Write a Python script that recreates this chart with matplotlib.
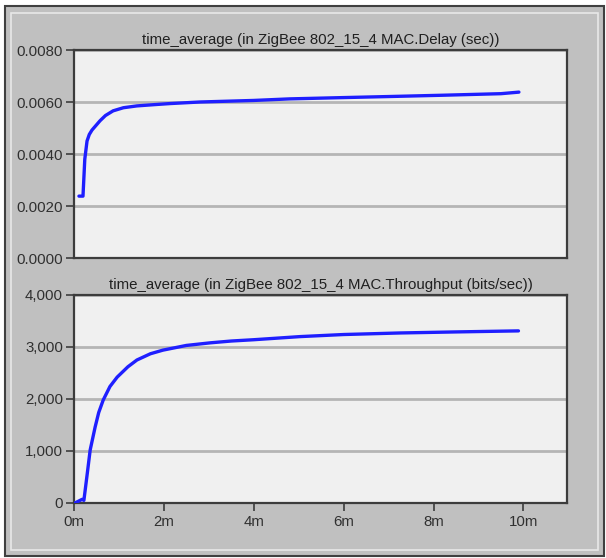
import matplotlib
matplotlib.use("Agg")
import matplotlib.pyplot as plt
from matplotlib.patches import Rectangle
from matplotlib.ticker import FuncFormatter

# ---- data (time in minutes) ----
delay_t = [0.11, 0.20, 0.24, 0.29, 0.34, 0.40, 0.50, 0.58, 0.70, 0.87, 1.10, 1.40, 1.80,
           2.14, 2.80, 4.00, 4.80, 6.00, 7.00, 8.20, 9.50, 9.90]
delay_v = [0.00238, 0.00238, 0.00380, 0.00450, 0.00475, 0.00492, 0.00512, 0.00528, 0.00548,
           0.00566, 0.00578, 0.00585, 0.00590, 0.00594, 0.00600, 0.00606, 0.00612, 0.00617,
           0.00621, 0.00626, 0.00632, 0.00638]

thr_t = [0.02, 0.18, 0.22, 0.30, 0.36, 0.47, 0.55, 0.65, 0.80, 0.96, 1.20, 1.40, 1.70,
         1.98, 2.50, 3.03, 3.50, 4.00, 5.03, 6.00, 7.26, 8.50, 9.89]
thr_v = [0, 70, 50, 600, 1020, 1460, 1740, 1980, 2240, 2420, 2620, 2750, 2870,
         2940, 3030, 3080, 3115, 3140, 3200, 3240, 3270, 3290, 3310]

x_ticks = [0, 2, 4, 6, 8, 10]
x_labels = ["0m", "2m", "4m", "6m", "8m", "10m"]
delay_ticks = [0.0, 0.002, 0.004, 0.006, 0.008]
thr_ticks = [0, 1000, 2000, 3000, 4000]
title_delay = "time_average (in ZigBee 802_15_4 MAC.Delay (sec))"
title_thr = "time_average (in ZigBee 802_15_4 MAC.Throughput (bits/sec))"

W, H = 606, 558
plt.rcParams['font.family'] = ['Liberation Sans', 'DejaVu Sans']
fig = plt.figure(figsize=(W / 100, H / 100), dpi=100)
fig.patch.set_facecolor('white')

def fx(px):
    return px / W

def fy(py):
    return 1 - py / H

# outer panel frame
fig.patches.append(Rectangle((fx(5), fy(556)), fx(599), 550 / H, transform=fig.transFigure,
                             facecolor='#c0c0c0', edgecolor='#404040', linewidth=1.5, zorder=-10))
fig.patches.append(Rectangle((fx(11), fy(550)), fx(587), 537 / H, transform=fig.transFigure,
                             facecolor='#c0c0c0', edgecolor='#e8e8e8', linewidth=1.2, zorder=-9))

left, right = 74, 567
ax1 = fig.add_axes([fx(left), fy(258), fx(right - left), (258 - 50) / H])
ax2 = fig.add_axes([fx(left), fy(503), fx(right - left), (503 - 295) / H])

line_color = '#1f1fff'
grid_color = '#b5b5b5'
dark = '#3c3c3c'
fs = 10.8

for ax in (ax1, ax2):
    ax.set_zorder(5)
    ax.set_facecolor('#f0f0f0')
    for s in ax.spines.values():
        s.set_color(dark)
        s.set_linewidth(1.6)
    ax.set_xlim(0, 10.97)
    ax.tick_params(axis='y', direction='out', length=6, width=1.2, color=dark,
                   labelsize=fs, labelcolor='#303030', pad=2)
    ax.grid(axis='y', color=grid_color, linewidth=2)
    ax.set_axisbelow(True)

ax1.plot(delay_t, delay_v, color=line_color, linewidth=2.4, solid_capstyle='round',
         solid_joinstyle='round', zorder=3)
ax1.set_ylim(0, 0.008)
ax1.set_yticks(delay_ticks)
ax1.yaxis.set_major_formatter(FuncFormatter(lambda v, p: f"{v:.4f}"))
ax1.set_xticks([])
ax1.set_title(title_delay, fontsize=fs, color='#202020', pad=4)

ax2.plot(thr_t, thr_v, color=line_color, linewidth=2.4, solid_capstyle='round',
         solid_joinstyle='round', zorder=3)
ax2.set_ylim(0, 4000)
ax2.set_yticks(thr_ticks)
ax2.yaxis.set_major_formatter(FuncFormatter(lambda v, p: f"{int(v):,}"))
ax2.set_xticks(x_ticks)
ax2.set_xticklabels(x_labels)
ax2.tick_params(axis='x', direction='out', length=6, width=1.2, color=dark,
                labelsize=fs, labelcolor='#303030', pad=3)
ax2.set_title(title_thr, fontsize=fs, color='#202020', pad=4)

fig.savefig("out.png", dpi=100, facecolor=fig.get_facecolor())
